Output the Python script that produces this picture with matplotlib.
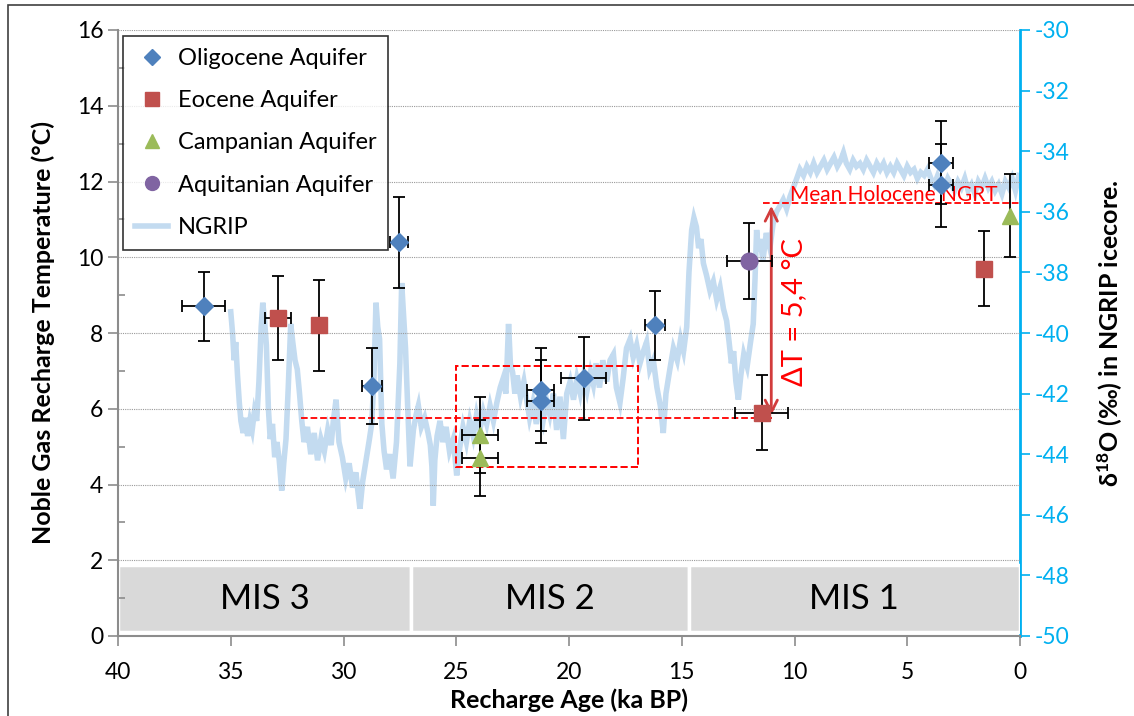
import matplotlib
matplotlib.use("Agg")
import matplotlib.pyplot as plt
from matplotlib.patches import Rectangle
from matplotlib.lines import Line2D

plt.rcParams['font.family'] = ['Lato', 'DejaVu Sans']
plt.rcParams['mathtext.fontset'] = 'custom'
plt.rcParams['mathtext.rm'] = 'Lato'
plt.rcParams['mathtext.bf'] = 'Lato:bold'
plt.rcParams['axes.unicode_minus'] = False

# noble gas temperatures (age ka BP, temperature degC, errors)
oli_age = [36.2, 28.75, 27.55, 21.25, 21.25, 19.35, 16.2, 3.5, 3.5]
oli_t = [8.7, 6.6, 10.4, 6.5, 6.2, 6.8, 8.2, 12.5, 11.9]
oli_terr = [0.9, 1.0, 1.2, 1.1, 1.1, 1.1, 0.9, 1.1, 1.1]
oli_aerr = [0.95, 0.45, 0.4, 0.6, 0.6, 1.0, 0.45, 0.55, 0.55]

eoc_age = [32.9, 31.1, 11.45, 1.6]
eoc_t = [8.4, 8.2, 5.9, 9.7]
eoc_terr = [1.1, 1.2, 1.0, 1.0]
eoc_aerr = [0.58, 0.25, 1.17, 0.3]

camp_age = [23.95, 23.95, 0.45]
camp_t = [5.3, 4.7, 11.1]
camp_terr = [1.0, 1.0, 1.1]
camp_aerr = [0.8, 0.8, 0.0]

aqui_age = [12.0]
aqui_t = [9.9]
aqui_terr = [1.0]
aqui_aerr = [1.0]

# NGRIP d18O record
ngrip_age = [35.0, 34.92, 34.85, 34.78, 34.7, 34.62, 34.55, 34.45, 34.35, 34.25,
             34.15, 34.05, 33.95, 33.85, 33.75, 33.65, 33.58, 33.5, 33.42, 33.33,
             33.25, 33.15, 33.05, 32.95, 32.85, 32.74, 32.65, 32.55, 32.45, 32.34,
             32.25, 32.15, 32.05, 31.95, 31.85, 31.75, 31.6, 31.45, 31.3, 31.15,
             31.0, 30.85, 30.7, 30.55, 30.45, 30.33, 30.2, 30.05, 29.9, 29.75,
             29.6, 29.45, 29.35, 29.27, 29.15, 29.0, 28.85, 28.75, 28.65, 28.56,
             28.48, 28.4, 28.3, 28.2, 28.09, 27.95, 27.8, 27.65, 27.5, 27.42,
             27.33, 27.25, 27.15, 27.05, 26.9, 26.78, 26.68, 26.55, 26.4, 26.25,
             26.15, 26.08, 26.02, 25.95, 25.85, 25.72, 25.6, 25.45, 25.3, 25.13,
             24.98, 24.85, 24.7, 24.55, 24.4, 24.25, 24.1, 23.95, 23.8, 23.65,
             23.5, 23.35, 23.2, 23.05, 22.92, 22.8, 22.68, 22.6, 22.5, 22.4,
             22.3, 22.15, 22.0, 21.88, 21.75, 21.6, 21.45, 21.3, 21.15, 21.0,
             20.85, 20.69, 20.55, 20.4, 20.25, 20.1, 19.95, 19.8, 19.65, 19.5,
             19.35, 19.2, 19.05, 18.92, 18.8, 18.65, 18.5, 18.33, 18.18, 18.03,
             17.9, 17.74, 17.6, 17.45, 17.29, 17.15, 17.0, 16.85, 16.7, 16.56,
             16.42, 16.26, 16.1, 15.95, 15.82, 15.7, 15.55, 15.37, 15.2, 15.05,
             14.92, 14.78, 14.68, 14.56, 14.46, 14.35, 14.25, 14.15, 14.04, 13.9,
             13.75, 13.6, 13.45, 13.3, 13.15, 13.01, 12.9, 12.8, 12.7, 12.6,
             12.49, 12.38, 12.25, 12.1, 11.95, 11.83, 11.75, 11.68, 11.6, 11.53,
             11.4, 11.25, 11.09, 10.95, 10.8, 10.64, 10.5, 10.35, 10.2, 10.05,
             9.9, 9.76, 9.6, 9.45, 9.3, 9.15, 9.0, 8.85, 8.7, 8.55,
             8.4, 8.25, 8.1, 7.95, 7.83, 7.7, 7.55, 7.4, 7.25, 7.1,
             6.95, 6.8, 6.65, 6.5, 6.35, 6.2, 6.05, 5.9, 5.75, 5.6,
             5.45, 5.3, 5.15, 5.0, 4.85, 4.7, 4.55, 4.4, 4.25, 4.1,
             3.95, 3.8, 3.65, 3.5, 3.35, 3.2, 3.05, 2.9, 2.75, 2.6,
             2.45, 2.3, 2.15, 2.0, 1.85, 1.7, 1.55, 1.4, 1.25, 1.1,
             0.95, 0.8, 0.65, 0.5, 0.35, 0.2, 0.05]
ngrip_d18o = [-39.3, -40.0, -40.9, -40.3, -41.4, -42.3, -42.9, -43.3, -42.8, -43.4,
              -42.9, -43.2, -42.6, -42.9, -41.6, -39.8, -39.0, -39.6, -40.4, -42.5,
              -43.5, -43.0, -44.1, -43.6, -44.2, -45.2, -44.3, -43.5, -41.8, -39.7,
              -40.3, -40.9, -41.2, -42.0, -42.9, -43.6, -43.1, -44.0, -43.3, -44.2,
              -43.5, -43.9, -43.2, -43.7, -42.9, -42.2, -43.6, -44.1, -44.8, -44.3,
              -45.1, -44.6, -45.3, -45.8, -44.9, -44.2, -43.5, -43.0, -41.5, -39.0,
              -39.8, -40.2, -43.0, -43.9, -44.5, -44.0, -44.8, -43.6, -41.0, -38.35,
              -39.5, -40.5, -42.5, -44.4, -43.2, -42.7, -42.4, -43.1, -42.8, -43.3,
              -43.7, -44.4, -45.7, -44.2, -43.4, -42.9, -43.6, -43.1, -43.9, -43.5,
              -44.7, -43.8, -43.1, -43.6, -42.9, -43.4, -42.7, -43.2, -42.6, -43.0,
              -42.4, -42.9, -42.3, -41.8, -41.5, -42.0, -39.7, -41.0, -41.3, -42.0,
              -41.4, -42.1, -41.6, -42.2, -42.8, -42.3, -43.0, -42.4, -42.9, -42.2,
              -42.7, -42.0, -43.2, -42.1, -43.5, -42.0, -41.6, -42.2, -41.5, -42.0,
              -41.4, -41.9, -41.3, -41.7, -41.0, -41.8, -40.9, -41.6, -40.9, -40.7,
              -41.8, -42.3, -41.5, -40.5, -40.2, -40.8, -40.4, -41.0, -40.6, -40.3,
              -41.2, -40.9, -41.8, -42.4, -43.3, -42.0, -41.3, -40.5, -40.9, -40.2,
              -40.6, -39.8, -38.0, -36.6, -36.2, -36.5, -37.2, -36.9, -37.7, -38.1,
              -38.6, -38.3, -38.9, -38.5, -39.2, -39.6, -40.3, -41.0, -40.6, -41.6,
              -42.2, -41.4, -40.7, -41.1, -40.3, -39.7, -38.2, -36.6, -37.3, -36.9,
              -37.6, -36.7, -37.2, -36.4, -36.0, -35.8, -35.6, -35.9, -35.5, -35.2,
              -34.9, -34.6, -34.8, -34.5, -34.7, -34.4, -34.7, -34.5, -34.3, -34.6,
              -34.4, -34.2, -34.5, -34.3, -34.05, -34.4, -34.6, -34.3, -34.5, -34.4,
              -34.6, -34.3, -34.5, -34.7, -34.4, -34.6, -34.4, -34.7, -34.5, -34.7,
              -34.4, -34.6, -34.8, -34.5, -34.7, -34.6, -34.9, -34.7, -34.8, -34.6,
              -34.9, -35.1, -34.8, -35.0, -35.2, -34.9, -35.1, -35.3, -35.0, -35.2,
              -34.9, -35.3, -35.1, -35.4, -35.0, -35.2, -34.9, -35.2, -35.0, -35.3,
              -35.1, -35.4, -35.0, -35.2, -34.9, -35.3, -34.8]

mis_labels = ['MIS 3', 'MIS 2', 'MIS 1']
mis_start = [40.0, 27.0, 14.7]
mis_end = [27.0, 14.7, 0.0]

lgm_mean = 5.75
holo_mean = 11.43

c_oli = '#4f81bd'
c_eoc = '#c0504d'
c_camp = '#9bbb59'
c_aqui = '#8064a2'
c_ngrip = '#c3dbf0'
c_right = '#00b0f0'
c_grey = '#8c8c8c'

fig = plt.figure(figsize=(11.34, 7.16), dpi=100)
ax = fig.add_axes([118 / 1134, 80 / 716, 902 / 1134, 606 / 716])
ax2 = ax.twinx()
ax.set_zorder(ax2.get_zorder() + 1)
ax.patch.set_visible(False)

# NGRIP on right axis
ax2.plot(ngrip_age, ngrip_d18o, color=c_ngrip, lw=4, solid_joinstyle='miter')
ax2.set_ylim(-50, -30)
ax2.set_yticks(range(-50, -29, 2))
ax2.tick_params(axis='y', colors=c_right, labelsize=16.5, length=7, width=1.2, direction='out')
ax2.spines['right'].set_color(c_right)
ax2.spines['right'].set_linewidth(2)
for s in ['top', 'left', 'bottom']:
    ax2.spines[s].set_visible(False)
ax2.set_ylabel(r'δ$\mathbf{^{18}}$O (‰) in NGRIP icecore.', fontsize=18, fontweight='bold', color='black')
ax2.yaxis.set_label_coords(1.084, 0.5)

ax.set_xlim(40, 0)
ax.set_ylim(0, 16)
ax.set_yticks(range(0, 17, 2))
ax.set_yticks(range(1, 16, 2), minor=True)
ax.set_xticks(range(0, 41, 5))
ax.grid(axis='y', which='major', color='#9a9a9a', ls=(0, (1, 1)), lw=0.8)
ax.tick_params(axis='both', which='major', colors=c_grey, labelcolor='black', labelsize=16.5,
               length=7, width=1.2, direction='out')
ax.tick_params(axis='y', which='minor', colors=c_grey, length=5, width=1.2, direction='in')
ax.tick_params(axis='x', pad=12)
for s in ['top', 'right']:
    ax.spines[s].set_visible(False)
for s in ['left', 'bottom']:
    ax.spines[s].set_color(c_grey)
    ax.spines[s].set_linewidth(1.5)

# MIS boxes
for lab, a0, a1 in zip(mis_labels, mis_start, mis_end):
    ax.add_patch(Rectangle((a1, 0.1), a0 - a1, 1.77, facecolor='#d9d9d9', edgecolor='white', lw=2.5, zorder=1))
    ax.text((a0 + a1) / 2, 0.98, lab, ha='center', va='center', fontsize=25, zorder=2)

# error bars and markers
err_kw = dict(fmt='none', ecolor='black', elinewidth=1.3, capsize=4, capthick=1.3, zorder=4)
ax.errorbar(oli_age, oli_t, yerr=oli_terr, xerr=oli_aerr, **err_kw)
ax.errorbar(eoc_age, eoc_t, yerr=eoc_terr, xerr=eoc_aerr, **err_kw)
ax.errorbar(camp_age, camp_t, yerr=camp_terr, xerr=camp_aerr, **err_kw)
ax.errorbar(aqui_age, aqui_t, yerr=aqui_terr, xerr=aqui_aerr, **err_kw)
ax.plot(oli_age, oli_t, 'D', color=c_oli, ms=9, ls='none', zorder=5)
ax.plot(eoc_age, eoc_t, 's', color=c_eoc, ms=11, ls='none', zorder=5)
ax.plot(camp_age, camp_t, '^', color=c_camp, ms=11, ls='none', zorder=5)
ax.plot(aqui_age, aqui_t, 'o', color=c_aqui, ms=12, ls='none', zorder=5)

# red annotations
ax.plot([31.9, 11.0], [lgm_mean, lgm_mean], color='red', ls='--', lw=1.3, zorder=3)
ax.plot([11.4, 0.0], [holo_mean, holo_mean], color='red', ls='--', lw=1.3, zorder=3)
ax.add_patch(Rectangle((16.95, 4.47), 8.05, 2.66, fill=False, edgecolor='red', ls='--', lw=1.4, zorder=3))
ax.annotate('', xy=(11.03, holo_mean), xytext=(11.03, lgm_mean),
            arrowprops=dict(arrowstyle='<->', color='#d23c3c', lw=2, mutation_scale=22), zorder=3)
ax.text(10.0, 8.55, 'ΔT = 5,4 °C', color='red', rotation=90, ha='center', va='center', fontsize=21)
ax.text(5.6, holo_mean - 0.05, 'Mean Holocene NGRT', color='red', ha='center', va='bottom', fontsize=15)

ax.set_xlabel('Recharge Age (ka BP)', fontsize=18, fontweight='bold')
ax.set_ylabel('Noble Gas Recharge Temperature (°C)', fontsize=18, fontweight='bold')
ax.xaxis.set_label_coords(0.5, -0.086)
ax.yaxis.set_label_coords(-0.07, 0.5)

handles = [Line2D([], [], marker='D', color=c_oli, ls='none', ms=8),
           Line2D([], [], marker='s', color=c_eoc, ls='none', ms=10),
           Line2D([], [], marker='^', color=c_camp, ls='none', ms=10),
           Line2D([], [], marker='o', color=c_aqui, ls='none', ms=10),
           Line2D([], [], color=c_ngrip, lw=4)]
leg = ax.legend(handles, ['Oligocene Aquifer', 'Eocene Aquifer', 'Campanian Aquifer',
                          'Aquitanian Aquifer', 'NGRIP'],
                loc='upper left', bbox_to_anchor=(0.006, 0.99), borderaxespad=0,
                fontsize=17, frameon=True, fancybox=False, edgecolor='black',
                handlelength=1.4, handletextpad=0.4, labelspacing=0.9, borderpad=0.5)
leg.get_frame().set_linewidth(1.2)
leg.set_zorder(10)

# chart border
fig.patches.append(Rectangle((8 / 1134, -0.01), 1.0, 0.993 + 0.01, transform=fig.transFigure,
                             fill=False, edgecolor='#404040', lw=1.2))

fig.savefig('out.png', dpi=100)
